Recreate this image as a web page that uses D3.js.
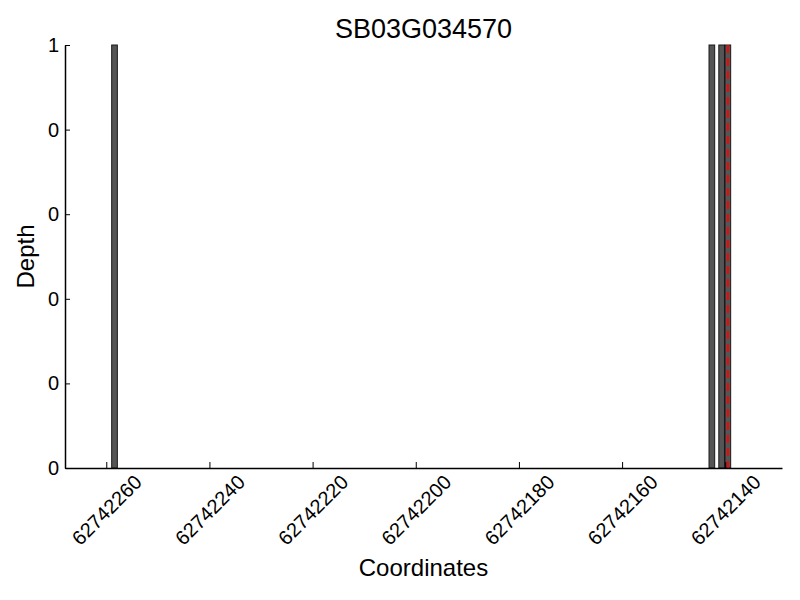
<!DOCTYPE html>
<html>
<head>
<meta charset="utf-8">
<script src="https://cdn.jsdelivr.net/npm/d3@7"></script>
<style>
  body { margin: 0; background: #fff; }
  text { font-family: "Liberation Sans", Arial, sans-serif; fill: #000; }
</style>
</head>
<body>
<div id="chart"></div>
<script>
const TITLE = "SB03G034570";

// bar centre coordinates and depths
const barPositions = [62742258.4, 62742142.6, 62742140.7, 62742139.5];
const barDepths = [1, 1, 1, 1];
const barWidthUnits = 1.1;

// red dashed marker
const markerPosition = 62742139.5;

const xTicks = [62742260, 62742240, 62742220, 62742200, 62742180, 62742160, 62742140];
const yTicks = [0, 0.2, 0.4, 0.6, 0.8, 1];

const xDomain = [62742268, 62742129];
const yDomain = [0, 1];

const width = 800, height = 600;
const margin = {top: 45, right: 18, bottom: 132, left: 65};

const svg = d3.select("#chart").append("svg")
    .attr("width", width)
    .attr("height", height);

// x axis is reversed, so the bar edges are swapped
const x = d3.scaleLinear().domain(xDomain).range([margin.left, width - margin.right]);
const y = d3.scaleLinear().domain(yDomain).range([height - margin.bottom, margin.top]);

const bars = barPositions.map(function(p, i) { return {pos: p, depth: barDepths[i]}; });

function barLeft(d) {
    return Math.min(x(d.pos - barWidthUnits / 2), x(d.pos + barWidthUnits / 2));
}
function barPx(d) {
    return Math.abs(x(d.pos + barWidthUnits / 2) - x(d.pos - barWidthUnits / 2));
}

// bars
svg.append("g").selectAll("rect")
    .data(bars)
    .enter().append("rect")
    .attr("x", barLeft)
    .attr("width", barPx)
    .attr("y", function(d) { return y(d.depth); })
    .attr("height", function(d) { return y(0) - y(d.depth); })
    .attr("fill", "#555555")
    .attr("stroke", "#1a1a1a")
    .attr("stroke-width", 1);

// marker line
svg.append("line")
    .attr("x1", x(markerPosition)).attr("x2", x(markerPosition))
    .attr("y1", y(1)).attr("y2", y(0))
    .attr("stroke", "red")
    .attr("stroke-width", 2)
    .attr("stroke-dasharray", "8,5");

// x axis, ticks pointing inward
const xAxis = svg.append("g")
    .attr("transform", "translate(0," + y(0) + ")")
    .call(d3.axisBottom(x).tickValues(xTicks).tickSizeInner(-6).tickSizeOuter(0).tickFormat(d3.format("d")));
xAxis.select(".domain").attr("stroke-width", 1.5);
xAxis.selectAll(".tick text")
    .attr("font-size", "20px")
    .attr("text-anchor", "middle")
    .attr("dominant-baseline", "central")
    .attr("y", null).attr("dy", null)
    .attr("transform", "translate(0,42) rotate(-45)");

// y axis, labels truncated to integers like the original
const yAxis = svg.append("g")
    .attr("transform", "translate(" + margin.left + ",0)")
    .call(d3.axisLeft(y).tickValues(yTicks).tickSizeInner(-5).tickSizeOuter(0).tickPadding(6)
        .tickFormat(function(d) { return String(Math.trunc(d)); }));
yAxis.select(".domain").attr("stroke-width", 1.5);
yAxis.selectAll(".tick text").attr("font-size", "20px");

// title and labels
const cx = (margin.left + width - margin.right) / 2;
svg.append("text")
    .attr("x", cx).attr("y", 38)
    .attr("text-anchor", "middle")
    .attr("font-size", "27px")
    .text(TITLE);

svg.append("text")
    .attr("x", cx).attr("y", 576)
    .attr("text-anchor", "middle")
    .attr("font-size", "24px")
    .text("Coordinates");

svg.append("text")
    .attr("transform", "translate(34," + ((margin.top + height - margin.bottom) / 2) + ") rotate(-90)")
    .attr("text-anchor", "middle")
    .attr("font-size", "24px")
    .text("Depth");
</script>
</body>
</html>
